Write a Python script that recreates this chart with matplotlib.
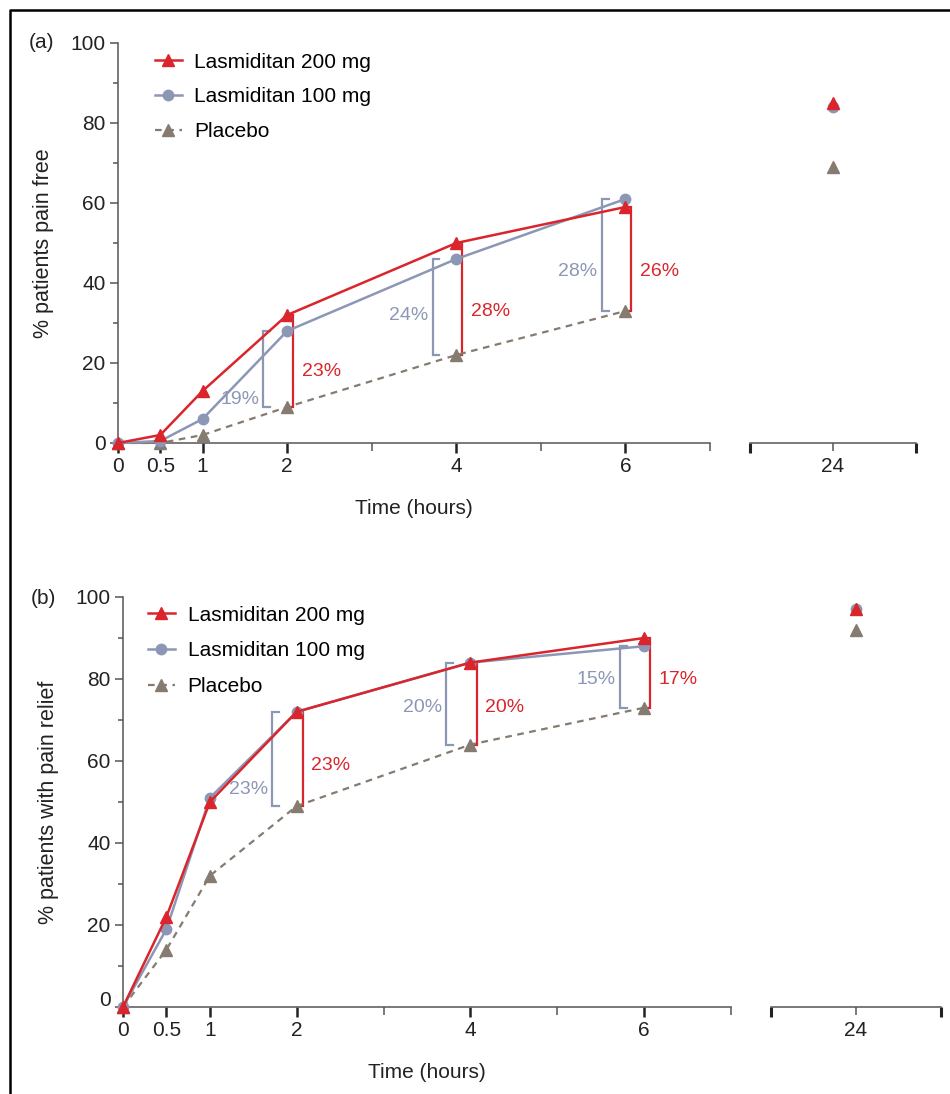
"""
Lasmiditan time course: pain free (a) and pain relief (b), two-panel figure.
"""

import matplotlib
matplotlib.use("Agg")
import matplotlib.pyplot as plt
from matplotlib.lines import Line2D
from matplotlib.transforms import ScaledTranslation

plt.rcParams["font.family"] = ["Liberation Sans", "DejaVu Sans"]

# ── Data ─────────────────────────────────────────
hours = [0, 0.5, 1, 2, 4, 6]
hour_labels = ["0", "0.5", "1", "2", "4", "6"]
late_hour = 24
bracket_hours = [2, 4, 6]
series_names = ["Lasmiditan 200 mg", "Lasmiditan 100 mg", "Placebo"]

free_200 = [0, 2, 13, 32, 50, 59]
free_100 = [0, 0.5, 6, 28, 46, 61]
free_pbo = [0, 0, 2, 9, 22, 33]
free_24h = [85, 84, 69]          # 200 mg, 100 mg, placebo

relief_200 = [0, 22, 50, 72, 84, 90]
relief_100 = [0, 19, 51, 72, 84, 88]
relief_pbo = [0, 14, 32, 49, 64, 73]
relief_24h = [97, 97, 92]

# ── Style ────────────────────────────────────────
RED = "#d9252b"
BLUE = "#8c97b5"
PBO = "#857b70"
AXC = "#555555"
TXT = "#222222"
W, H = 950, 1094


def px_rect(x0, x1, ytop, ybot):
    return [x0 / W, 1 - ybot / H, (x1 - x0) / W, (ybot - ytop) / H]


def bracket(ax, x, lo, hi, arm, color, text, ty, right_text):
    ax.plot([x + arm, x, x, x + arm], [lo, lo, hi, hi], color=color, lw=1.6,
            solid_joinstyle="miter", clip_on=False, zorder=2)
    if right_text:
        ax.text(x + 0.1, ty, text, color=color, fontsize=14, ha="left", va="center")
    else:
        ax.text(x - 0.05, ty, text, color=color, fontsize=14, ha="right", va="center")


def draw_panel(fig, main_rect, late_rect, d200, d100, dpbo, late, gray_ty, red_ty,
               ylabel, tag, tag_xy, leg_xy, leg_space, zero_lift):
    ax = fig.add_axes(main_rect)
    axl = fig.add_axes(late_rect)

    hp, = ax.plot(hours, dpbo, color=PBO, lw=1.6, ls=(0, (3, 2.5)), marker="^",
                  ms=9, clip_on=False, zorder=3)
    h1, = ax.plot(hours, d100, color=BLUE, lw=1.8, marker="o", ms=7.5,
                  clip_on=False, zorder=4)
    h2, = ax.plot(hours, d200, color=RED, lw=1.8, marker="^", ms=9,
                  clip_on=False, zorder=5)

    # difference brackets vs placebo
    for k, t in enumerate(bracket_hours):
        i = hours.index(t)
        bracket(ax, t - 0.28, dpbo[i], d100[i], 0.08, BLUE,
                f"{d100[i] - dpbo[i]:.0f}%", gray_ty[k], False)
        bracket(ax, t + 0.07, dpbo[i], d200[i], -0.07, RED,
                f"{d200[i] - dpbo[i]:.0f}%", red_ty[k], True)

    ax.set_xlim(0, 7)
    ax.set_ylim(0, 100)
    for s in ["top", "right"]:
        ax.spines[s].set_visible(False)
    ax.spines["left"].set_bounds(0, 100)
    ax.spines["bottom"].set_bounds(0, 7)
    for s in ["left", "bottom"]:
        ax.spines[s].set_color(AXC)
        ax.spines[s].set_linewidth(1.1)
    ax.set_xticks(hours)
    ax.set_xticklabels(hour_labels)
    ax.set_xticks([3, 5, 7], minor=True)
    ax.set_yticks(range(0, 101, 20))
    ax.set_yticks(range(10, 100, 20), minor=True)
    ax.tick_params(which="major", labelsize=15, labelcolor=TXT, pad=3)
    ax.tick_params(axis="x", which="major", length=7, width=1.8, color=TXT)
    ax.tick_params(axis="x", which="minor", length=6, width=1.1, color=AXC)
    ax.tick_params(axis="y", which="major", length=6, width=1.1, color=AXC)
    ax.tick_params(axis="y", which="minor", length=3.5, width=1.1, color=AXC)
    if zero_lift:
        lab = ax.get_yticklabels()[0]
        lab.set_transform(lab.get_transform() +
                          ScaledTranslation(0, zero_lift / 100, fig.dpi_scale_trans))
    ax.set_xlabel("Time (hours)", fontsize=15, color=TXT, labelpad=17)
    ax.set_ylabel(ylabel, fontsize=15.5, color=TXT, labelpad=12)

    ax.legend(handles=[h2, h1, hp], labels=series_names, loc="upper left",
              bbox_to_anchor=leg_xy, frameon=False, fontsize=15,
              handlelength=1.3, handletextpad=0.6, labelspacing=leg_space,
              borderpad=0, borderaxespad=0)

    # 24 h points on the split axis
    axl.plot([late_hour], [late[2]], ls="none", marker="^", ms=9, color=PBO, clip_on=False)
    axl.plot([late_hour], [late[1]], ls="none", marker="o", ms=7.5, color=BLUE, clip_on=False)
    axl.plot([late_hour], [late[0]], ls="none", marker="^", ms=9, color=RED, clip_on=False)
    axl.set_xlim(late_hour - 1, late_hour + 1)
    axl.set_ylim(0, 100)
    for s in ["top", "right", "left"]:
        axl.spines[s].set_visible(False)
    axl.spines["bottom"].set_color(AXC)
    axl.spines["bottom"].set_linewidth(1.1)
    axl.set_yticks([])
    axl.set_xticks([late_hour])
    axl.set_xticks([late_hour - 1, late_hour + 1], minor=True)
    axl.tick_params(which="major", length=6, width=1.1, color=AXC, labelsize=15,
                    labelcolor=TXT, pad=4)
    axl.tick_params(which="minor", length=7, width=2.2, color=TXT)
    axl.patch.set_alpha(0)

    fig.text(tag_xy[0] / W, 1 - tag_xy[1] / H, tag, fontsize=15, color=TXT,
             ha="center", va="center")
    return ax, axl


fig = plt.figure(figsize=(W / 100, H / 100), dpi=100)

draw_panel(fig, px_rect(118, 710, 43, 443), px_rect(750, 916, 43, 443),
           free_200, free_100, free_pbo, free_24h,
           gray_ty=[11, 32, 43], red_ty=[18, 33, 43],
           ylabel="% patients pain free", tag="(a)", tag_xy=(42, 43),
           leg_xy=(0.062, 0.976), leg_space=0.76, zero_lift=0)

draw_panel(fig, px_rect(123, 731, 597, 1007), px_rect(771, 941, 597, 1007),
           relief_200, relief_100, relief_pbo, relief_24h,
           gray_ty=[53, 73, 80], red_ty=[59, 73, 80],
           ylabel="% patients with pain relief", tag="(b)", tag_xy=(43, 598),
           leg_xy=(0.041, 0.979), leg_space=0.8, zero_lift=9)

# outer frame (left and top edges)
fig.add_artist(Line2D([10 / W, 10 / W, 1], [0, 1 - 10 / H, 1 - 10 / H],
                      transform=fig.transFigure, color="black", lw=1.8))

fig.savefig("out.png", dpi=100)
